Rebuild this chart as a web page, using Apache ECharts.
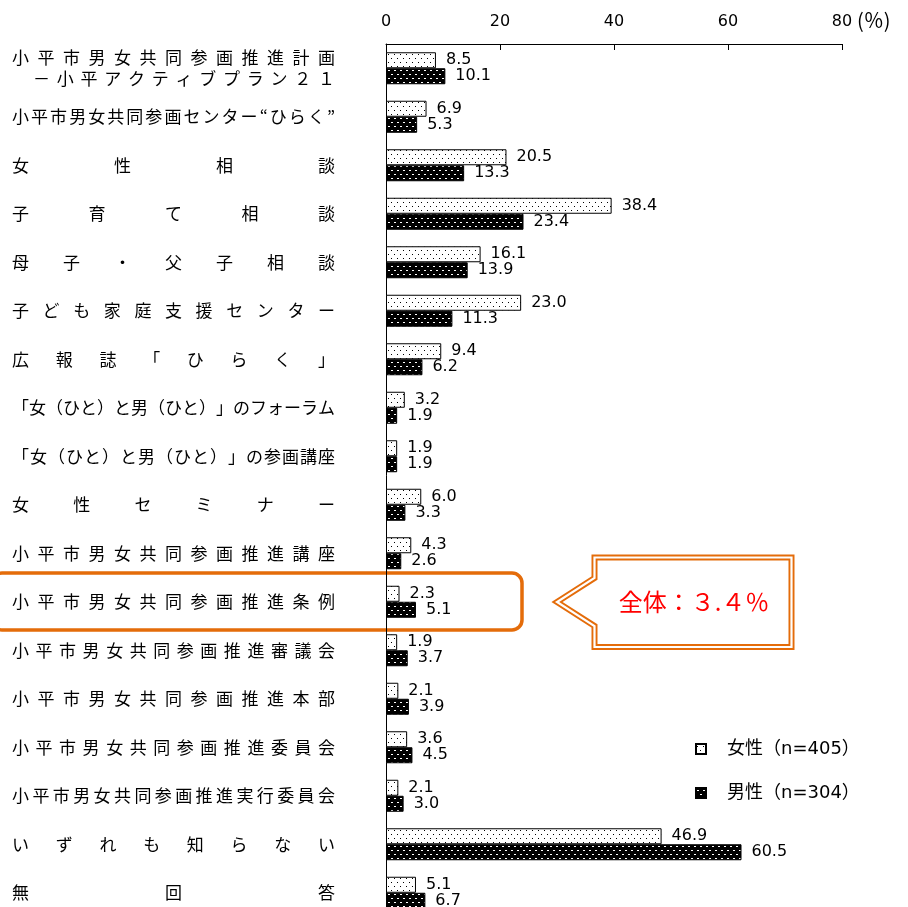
<!DOCTYPE html>
<html>
<head>
    <meta charset="utf-8">
    <title>認知度</title>
    <script src="https://cdn.jsdelivr.net/npm/echarts@6/dist/echarts.min.js"></script>
    <style>
        html, body { margin: 0; padding: 0; background: #fff; }
    </style>
</head>
<body>
    <div id="chart" style="width: 908px; height: 907px;"></div>

    <script type="text/javascript">
        // データ
        var categories = [
            '小平市男女共同参画推進計画\n－小平アクティブプラン２１',
            '小平市男女共同参画センター“ひらく”',
            '女性相談',
            '子育て相談',
            '母子・父子相談',
            '子ども家庭支援センター',
            '広報誌「ひらく」',
            '「女（ひと）と男（ひと）」のフォーラム',
            '「女（ひと）と男（ひと）」の参画講座',
            '女性セミナー',
            '小平市男女共同参画推進講座',
            '小平市男女共同参画推進条例',
            '小平市男女共同参画推進審議会',
            '小平市男女共同参画推進本部',
            '小平市男女共同参画推進委員会',
            '小平市男女共同参画推進実行委員会',
            'いずれも知らない',
            '無回答'
        ];
        var female = [8.5, 6.9, 20.5, 38.4, 16.1, 23.0, 9.4, 3.2, 1.9, 6.0, 4.3, 2.3, 1.9, 2.1, 3.6, 2.1, 46.9, 5.1];
        var male = [10.1, 5.3, 13.3, 23.4, 13.9, 11.3, 6.2, 1.9, 1.9, 3.3, 2.6, 5.1, 3.7, 3.9, 4.5, 3.0, 60.5, 6.7];
        var seriesNames = ['女性（n=405）', '男性（n=304）'];
        var totalNote = '全体：３.４％';

        var JP = '"Noto Sans CJK JP", sans-serif';
        var NUM = '"DejaVu Sans", "Noto Sans CJK JP", sans-serif';
        var ORANGE = '#E46C0A';
        var LABEL_SIZE = 17;

        // 網掛けパターン
        function makePattern(bg, dot, w, h) {
            var c = document.createElement('canvas');
            c.width = 6; c.height = 8;
            var ctx = c.getContext('2d');
            ctx.fillStyle = bg;
            ctx.fillRect(0, 0, 6, 8);
            ctx.fillStyle = dot;
            ctx.fillRect(1, 2, w, h);
            ctx.fillRect(4, 6, w, h);
            return { image: c, repeat: 'repeat' };
        }
        var femaleFill = makePattern('#fff', '#000', 1, 1);
        var maleFill = makePattern('#000', '#fff', 2, 1);

        // 項目名を均等割り付け（文字幅を測って残りを均等に配分）
        var LABEL_W = 323;
        var measure = document.createElement('canvas').getContext('2d');
        measure.font = LABEL_SIZE + 'px "Noto Sans CJK JP"';
        var rich = { ind: { width: 21, fontSize: LABEL_SIZE, lineHeight: 21 } };
        function styleFor(w) {
            var k = 'w' + Math.round(w * 10);
            if (!rich[k]) {
                rich[k] = { width: w, align: 'left', fontSize: LABEL_SIZE, lineHeight: 21, fontFamily: JP, color: '#000' };
            }
            return k;
        }
        function spread(line, w) {
            var chars = Array.from(line);
            var n = chars.length;
            var widths = chars.map(function (ch) { return measure.measureText(ch).width; });
            var sum = widths.reduce(function (a, b) { return a + b; }, 0);
            var gap = (w - sum) / (n - 1);
            return chars.map(function (ch, i) {
                return '{' + styleFor(i < n - 1 ? widths[i] + gap : widths[i]) + '|' + ch + '}';
            }).join('');
        }
        function labelFormatter(v) {
            return v.split('\n').map(function (line, i) {
                return i === 0 ? spread(line, LABEL_W) : '{ind| }' + spread(line, LABEL_W - 21);
            }).join('\n');
        }
        categories.forEach(labelFormatter);

        var chart = echarts.init(document.getElementById('chart'), null, { renderer: 'canvas' });

        var barLabel = {
            show: true,
            position: 'right',
            distance: 10,
            fontSize: 16,
            fontFamily: NUM,
            color: '#000',
            formatter: function (p) { return p.value.toFixed(1); }
        };

        var option = {
            animation: false,
            backgroundColor: '#fff',
            grid: { left: 386, top: 44, width: 456, height: 873, containLabel: false, outerBoundsMode: 'none' },
            legend: {
                orient: 'vertical',
                left: 690,
                top: 733,
                itemWidth: 10,
                itemHeight: 10,
                itemGap: 22,
                icon: 'rect',
                selectedMode: false,
                textStyle: { fontSize: 18, fontFamily: NUM, color: '#000', lineHeight: 22, padding: [0, 0, 0, 16] },
                data: seriesNames
            },
            xAxis: [
                {
                    type: 'value',
                    position: 'top',
                    min: 0,
                    max: 80,
                    interval: 20,
                    axisLine: { show: true, lineStyle: { color: '#000', width: 1 } },
                    axisTick: { show: true, inside: true, length: 6, lineStyle: { color: '#000' } },
                    axisLabel: { fontSize: 16, fontFamily: NUM, color: '#000', margin: 14 },
                    splitLine: { show: false }
                },
                {
                    // 棒の長さ用（元図の目盛りに合わせた内部スケール）
                    type: 'value',
                    position: 'top',
                    min: 0,
                    max: 77.6,
                    show: false
                }
            ],
            yAxis: {
                type: 'category',
                inverse: true,
                data: categories,
                axisLine: { show: true, lineStyle: { color: '#000', width: 1 } },
                axisTick: { show: false },
                axisLabel: {
                    align: 'left',
                    margin: 374,
                    formatter: labelFormatter,
                    rich: rich
                }
            },
            series: [
                {
                    name: seriesNames[0],
                    type: 'bar',
                    xAxisIndex: 1,
                    data: female,
                    barWidth: 16,
                    barGap: '0%',
                    itemStyle: { color: femaleFill, borderColor: '#000', borderWidth: 1 },
                    label: barLabel
                },
                {
                    name: seriesNames[1],
                    type: 'bar',
                    xAxisIndex: 1,
                    data: male,
                    barWidth: 16,
                    barGap: '0%',
                    itemStyle: { color: maleFill, borderColor: '#000', borderWidth: 1 },
                    label: barLabel
                }
            ],
            graphic: [
                {
                    type: 'text',
                    x: 857, y: 20,
                    style: { text: '(％)', font: '20px ' + JP, fill: '#000', align: 'left', verticalAlign: 'middle' }
                },
                {
                    type: 'rect',
                    shape: { x: -8, y: 573, width: 530, height: 57, r: 10 },
                    style: { fill: 'none', stroke: ORANGE, lineWidth: 3.5 }
                },
                {
                    type: 'polygon',
                    shape: { points: [[594.5, 557.5], [791.5, 557.5], [791.5, 647], [594.5, 647], [594.5, 626], [557, 602], [594.5, 578]] },
                    style: { fill: '#fff', stroke: ORANGE, lineWidth: 6, lineJoin: 'miter' }
                },
                {
                    type: 'polygon',
                    shape: { points: [[594.5, 557.5], [791.5, 557.5], [791.5, 647], [594.5, 647], [594.5, 626], [557, 602], [594.5, 578]] },
                    style: { fill: 'none', stroke: '#fff', lineWidth: 2.2, lineJoin: 'miter' }
                },
                {
                    type: 'text',
                    x: 694, y: 602,
                    z: 10,
                    style: { text: totalNote, font: '24px ' + JP, fill: '#FF0000', align: 'center', verticalAlign: 'middle' }
                }
            ]
        };

        chart.setOption(option);

        window.addEventListener('resize', function () {
            chart.resize();
        });
    </script>
</body>
</html>
